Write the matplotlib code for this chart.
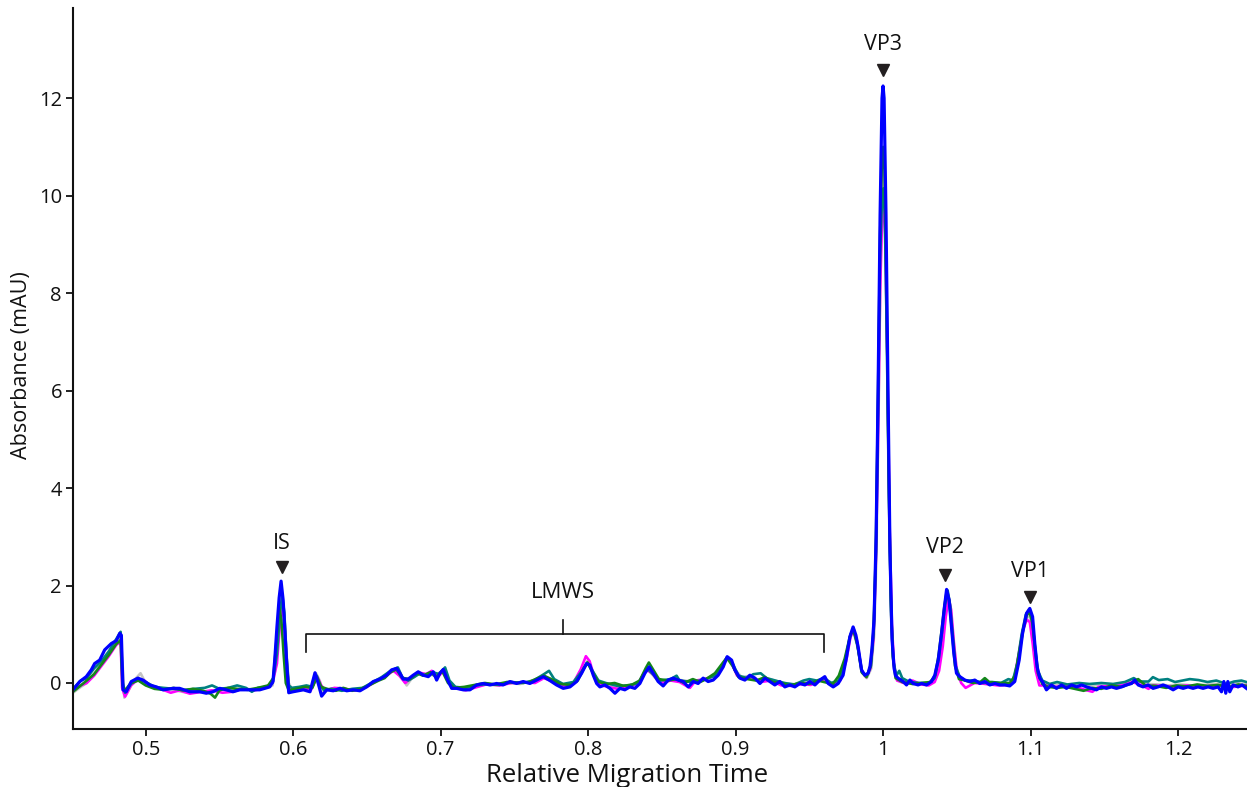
import matplotlib
matplotlib.use("Agg")
import matplotlib.pyplot as plt

plt.rcParams['font.family'] = ['Open Sans', 'DejaVu Sans']

# ---------------- data ----------------
BLUE = [(0.4507,-0.14),(0.4553,0.03),(0.4597,0.13),(0.4631,0.27),(0.4654,0.40),(0.4688,0.47),(0.4722,0.68),
(0.4767,0.81),(0.4801,0.87),(0.4824,1.02),(0.4835,0.98),(0.4846,-0.14),(0.4868,-0.18),(0.4902,0.03),(0.4947,0.10),
(0.4981,0.06),(0.5027,-0.04),(0.5072,-0.08),(0.5117,-0.14),(0.5185,-0.11),(0.5230,-0.11),(0.5298,-0.18),(0.5366,-0.18),
(0.5411,-0.21),(0.5456,-0.18),(0.5502,-0.11),(0.5546,-0.14),(0.5592,-0.18),(0.5637,-0.14),(0.5705,-0.14),(0.5773,-0.14),
(0.5841,-0.08),(0.5863,0.03),(0.5875,0.47),(0.5890,1.15),(0.5905,1.75),(0.5918,2.09),(0.5932,1.70),(0.5945,1.00),
(0.5958,0.30),(0.5970,-0.20),(0.5999,-0.18),(0.6069,-0.14),(0.6114,-0.18),(0.6148,0.21),(0.6170,-0.01),(0.6193,-0.27),
(0.6227,-0.14),(0.6272,-0.16),(0.6317,-0.11),(0.6363,-0.16),(0.6407,-0.14),(0.6453,-0.16),(0.6498,-0.08),(0.6543,0.03),
(0.6588,0.08),(0.6634,0.16),(0.6668,0.27),(0.6702,0.30),(0.6724,0.20),(0.6746,0.08),(0.6780,0.08),(0.6814,0.16),
(0.6848,0.23),(0.6882,0.16),(0.6916,0.13),(0.6950,0.23),(0.6973,0.06),(0.6995,0.20),(0.7018,0.28),(0.7041,0.10),
(0.7075,-0.11),(0.7108,-0.11),(0.7153,-0.14),(0.7199,-0.14),(0.7244,-0.04),(0.7289,-0.01),(0.7334,-0.04),(0.7380,-0.01),
(0.7424,-0.04),(0.7470,0.03),(0.7515,-0.01),(0.7560,0.03),(0.7605,-0.01),(0.7651,0.06),(0.7696,0.13),(0.7741,0.05),
(0.7786,-0.04),(0.7831,-0.11),(0.7877,-0.08),(0.7922,0.03),(0.7956,0.20),(0.7990,0.40),(0.8012,0.37),(0.8035,0.16),
(0.8058,-0.01),(0.8080,-0.08),(0.8114,-0.04),(0.8148,-0.11),(0.8182,-0.21),(0.8216,-0.11),(0.8249,-0.14),(0.8283,-0.08),
(0.8317,-0.11),(0.8351,-0.01),(0.8385,0.20),(0.8414,0.33),(0.8441,0.20),(0.8475,0.03),(0.8509,-0.06),(0.8543,0.06),
(0.8577,0.10),(0.8611,0.06),(0.8645,0.03),(0.8679,-0.08),(0.8713,0.03),(0.8746,-0.01),(0.8780,0.10),(0.8814,0.03),
(0.8848,0.06),(0.8882,0.16),(0.8916,0.33),(0.8943,0.54),(0.8973,0.47),(0.8995,0.27),(0.9029,0.10),(0.9063,0.06),
(0.9097,0.16),(0.9131,0.10),(0.9165,-0.01),(0.9199,0.10),(0.9233,0.03),(0.9266,-0.04),(0.9300,0.03),(0.9334,-0.08),
(0.9368,-0.04),(0.9402,-0.08),(0.9436,-0.01),(0.9470,-0.04),(0.9504,0.03),(0.9538,-0.04),(0.9572,0.06),(0.9605,0.13),
(0.9628,-0.01),(0.9662,-0.08),(0.9696,-0.01),(0.9729,0.16),(0.9753,0.54),(0.9775,0.95),(0.9797,1.15),(0.9816,0.98),
(0.9831,0.74),(0.9854,0.27),(0.9877,0.16),(0.9899,0.20),(0.9912,0.35),(0.9925,0.70),(0.9939,1.3),(0.9953,3.0),
(0.9966,5.9),(0.9980,9.6),(0.9993,12.0),(1.0000,12.25),(1.0007,12.0),(1.0020,9.6),(1.0034,5.9),(1.0047,2.7),
(1.0061,0.9),(1.0075,0.3),(1.0085,0.15),(1.0102,0.10),(1.0136,0.03),(1.0159,-0.04),(1.0182,0.06),(1.0204,-0.01),
(1.0238,-0.04),(1.0261,-0.01),(1.0295,-0.04),(1.0329,0.03),(1.0351,0.16),(1.0374,0.47),(1.0397,1.02),(1.0414,1.50),
(1.0431,1.92),(1.0448,1.70),(1.0464,1.15),(1.0480,0.61),(1.0498,0.20),(1.0521,0.13),(1.0555,0.06),(1.0589,0.03),
(1.0622,0.06),(1.0656,-0.01),(1.0690,0.03),(1.0724,-0.04),(1.0758,-0.01),(1.0792,-0.04),(1.0826,-0.04),(1.0859,-0.06),
(1.0893,0.03),(1.0923,0.47),(1.0946,1.02),(1.0973,1.43),(1.0995,1.53),(1.1014,1.36),(1.1029,0.81),(1.1045,0.33),
(1.1063,0.10),(1.1080,0.03),(1.1108,-0.14),(1.1142,-0.04),(1.1176,-0.11),(1.1210,-0.04),(1.1244,-0.11),(1.1278,-0.04),
(1.1312,-0.08),(1.1346,-0.04),(1.1380,-0.08),(1.1414,-0.11),(1.1447,-0.14),(1.1481,-0.08),(1.1515,-0.11),(1.1549,-0.08),
(1.1583,-0.11),(1.1617,-0.08),(1.1651,-0.04),(1.1685,-0.01),(1.1707,0.06),(1.1730,-0.04),(1.1763,-0.08),(1.1797,-0.04),
(1.1831,-0.11),(1.1865,-0.08),(1.1899,-0.04),(1.1933,-0.08),(1.1967,-0.14),(1.2001,-0.08),(1.2035,-0.11),(1.2068,-0.08),
(1.2102,-0.11),(1.2136,-0.08),(1.2170,-0.11),(1.2204,-0.08),(1.2238,-0.11),(1.2272,-0.08),(1.2295,-0.18),(1.2311,0.03),
(1.2324,-0.21),(1.2338,0.03),(1.2351,-0.18),(1.2374,-0.04),(1.2407,-0.08),(1.2435,-0.04),(1.2464,-0.11)]

GRAY = [(0.4507,-0.20),(0.4560,-0.08),(0.4600,0.00),(0.4650,0.20),(0.4700,0.40),(0.4750,0.60),(0.4800,0.85),(0.4830,0.95),
(0.4845,0.30),(0.4855,-0.30),(0.4875,-0.20),(0.4920,0.05),(0.4965,0.20),(0.5000,0.00),(0.5060,-0.10),(0.5120,-0.12),
(0.5200,-0.15),(0.5280,-0.20),(0.5350,-0.15),(0.5420,-0.18),(0.5500,-0.12),(0.5580,-0.15),(0.5650,-0.12),(0.5730,-0.13),
(0.5800,-0.10),(0.5860,-0.05),(0.5885,0.40),(0.5905,1.20),(0.5925,1.75),(0.5940,1.40),(0.5955,0.60),(0.5970,0.00),
(0.5990,-0.12),(0.6060,-0.10),(0.6120,-0.12),(0.6155,0.20),(0.6180,0.05),(0.6205,-0.20),(0.6250,-0.12),(0.6320,-0.10),
(0.6400,-0.15),(0.6480,-0.10),(0.6540,0.00),(0.6600,0.10),(0.6660,0.22),(0.6700,0.28),(0.6740,0.10),(0.6770,-0.05),
(0.6810,0.12),(0.6860,0.20),(0.6920,0.18),(0.6960,0.15),(0.7010,0.25),(0.7050,0.05),(0.7090,-0.08),(0.7160,-0.12),
(0.7230,-0.08),(0.7300,-0.03),(0.7380,-0.05),(0.7460,0.00),(0.7540,-0.02),(0.7620,0.05),(0.7700,0.15),(0.7760,0.05),
(0.7830,-0.05),(0.7900,0.00),(0.7960,0.25),(0.7995,0.45),(0.8030,0.25),(0.8070,0.02),(0.8130,-0.05),(0.8200,-0.08),
(0.8280,-0.05),(0.8350,0.00),(0.8400,0.30),(0.8450,0.12),(0.8500,0.00),(0.8580,0.08),(0.8650,0.05),(0.8720,0.02),
(0.8800,0.08),(0.8870,0.15),(0.8920,0.40),(0.8950,0.50),(0.8990,0.30),(0.9040,0.12),(0.9100,0.15),(0.9160,0.05),
(0.9230,0.08),(0.9300,0.02),(0.9380,-0.03),(0.9450,0.00),(0.9520,0.02),(0.9580,0.05),(0.9640,0.00),(0.9700,0.05),
(0.9740,0.45),(0.9780,0.95),(0.9800,1.05),(0.9830,0.70),(0.9860,0.20),(0.9890,0.10),(0.9920,0.30),(0.9940,1.0),
(0.9955,2.6),(0.9970,5.6),(0.9985,9.0),(1.0000,10.5),(1.0012,9.6),(1.0025,7.2),(1.0040,3.6),(1.0055,1.3),
(1.0070,0.4),(1.0090,0.1),(1.0130,0.02),(1.0200,-0.02),(1.0280,-0.03),(1.0330,0.02),(1.0360,0.20),(1.0385,0.70),
(1.0410,1.35),(1.0435,1.85),(1.0455,1.55),(1.0475,0.95),(1.0495,0.35),(1.0520,0.10),(1.0580,0.02),(1.0650,0.00),
(1.0720,-0.03),(1.0800,-0.02),(1.0870,0.00),(1.0905,0.25),(1.0935,0.80),(1.0965,1.30),(1.0990,1.40),(1.1010,1.20),
(1.1030,0.65),(1.1050,0.25),(1.1075,0.05),(1.1120,-0.05),(1.1200,-0.03),(1.1280,-0.05),(1.1360,-0.06),(1.1440,-0.04),
(1.1520,-0.06),(1.1600,-0.03),(1.1680,0.02),(1.1720,0.05),(1.1780,-0.02),(1.1860,-0.03),(1.1940,-0.05),(1.2020,-0.03),
(1.2100,-0.05),(1.2180,-0.04),(1.2260,-0.02),(1.2340,-0.05),(1.2400,0.00),(1.2464,-0.03)]

MAGENTA = [(0.4507,-0.15),(0.4560,-0.05),(0.4600,0.00),(0.4650,0.15),(0.4700,0.35),(0.4750,0.55),(0.4800,0.78),(0.4830,0.85),
(0.4840,-0.10),(0.4860,-0.28),(0.4900,-0.05),(0.4950,0.08),(0.4990,0.05),(0.5040,-0.08),(0.5100,-0.12),(0.5170,-0.20),
(0.5230,-0.15),(0.5300,-0.22),(0.5380,-0.18),(0.5450,-0.15),(0.5520,-0.20),(0.5590,-0.18),(0.5660,-0.12),(0.5740,-0.15),
(0.5810,-0.10),(0.5860,0.00),(0.5890,0.40),(0.5910,1.20),(0.5925,1.60),(0.5940,1.25),(0.5955,0.45),(0.5970,-0.10),
(0.6000,-0.15),(0.6070,-0.12),(0.6120,-0.15),(0.6150,0.05),(0.6165,0.12),(0.6190,-0.05),(0.6220,-0.15),(0.6280,-0.10),
(0.6350,-0.12),(0.6420,-0.15),(0.6500,-0.08),(0.6570,0.05),(0.6630,0.15),(0.6680,0.25),(0.6720,0.15),(0.6760,0.00),
(0.6800,0.10),(0.6850,0.22),(0.6900,0.18),(0.6940,0.25),(0.6980,0.12),(0.7020,0.25),(0.7060,0.02),(0.7100,-0.10),
(0.7170,-0.15),(0.7250,-0.08),(0.7320,-0.02),(0.7400,-0.05),(0.7480,0.00),(0.7560,0.02),(0.7640,0.00),(0.7700,0.10),
(0.7770,0.02),(0.7840,-0.08),(0.7900,0.00),(0.7950,0.28),(0.7985,0.55),(0.8010,0.45),(0.8040,0.15),(0.8070,-0.02),
(0.8130,-0.08),(0.8200,-0.12),(0.8280,-0.08),(0.8340,0.00),(0.8395,0.28),(0.8440,0.18),(0.8490,0.00),(0.8560,0.05),
(0.8620,0.02),(0.8690,-0.10),(0.8730,0.05),(0.8790,0.08),(0.8860,0.15),(0.8910,0.35),(0.8940,0.52),(0.8975,0.40),
(0.9010,0.15),(0.9060,0.08),(0.9110,0.12),(0.9170,0.02),(0.9240,0.05),(0.9310,-0.05),(0.9380,-0.06),(0.9450,-0.02),
(0.9510,-0.04),(0.9570,0.05),(0.9610,0.08),(0.9660,-0.05),(0.9710,0.05),(0.9750,0.45),(0.9780,0.95),(0.9800,1.10),
(0.9825,0.85),(0.9855,0.25),(0.9885,0.12),(0.9915,0.30),(0.9935,0.9),(0.9950,2.3),(0.9965,4.8),(0.9980,8.0),
(0.9995,9.7),(1.0005,9.85),(1.0015,9.2),(1.0030,6.5),(1.0045,3.2),(1.0060,1.2),(1.0075,0.35),(1.0095,0.05),
(1.0140,0.00),(1.0200,0.05),(1.0260,-0.03),(1.0310,-0.05),(1.0350,0.02),(1.0380,0.25),(1.0405,0.75),(1.0425,1.35),
(1.0445,1.75),(1.0462,1.50),(1.0480,0.85),(1.0500,0.25),(1.0530,0.00),(1.0560,-0.10),(1.0620,0.00),(1.0700,-0.02),
(1.0780,-0.05),(1.0850,-0.04),(1.0890,0.10),(1.0920,0.60),(1.0950,1.10),(1.0975,1.30),(1.0995,1.25),(1.1015,0.80),
(1.1035,0.25),(1.1060,-0.05),(1.1100,-0.05),(1.1170,-0.08),(1.1250,-0.05),(1.1310,-0.08),(1.1380,-0.15),(1.1420,-0.18),
(1.1460,-0.08),(1.1540,-0.06),(1.1620,-0.05),(1.1690,0.02),(1.1750,-0.04),(1.1800,-0.12),(1.1830,-0.05),(1.1900,-0.06),
(1.1980,-0.08),(1.2060,-0.05),(1.2140,-0.08),(1.2220,-0.06),(1.2300,-0.05),(1.2380,-0.08),(1.2464,-0.05)]

TEAL = [(0.4507,-0.12),(0.4560,0.05),(0.4600,0.10),(0.4650,0.30),(0.4700,0.45),(0.4750,0.65),(0.4800,0.90),(0.4830,1.05),
(0.4845,0.00),(0.4860,-0.20),(0.4900,-0.02),(0.4950,0.08),(0.5000,0.02),(0.5060,-0.08),(0.5120,-0.10),(0.5190,-0.12),
(0.5260,-0.15),(0.5330,-0.12),(0.5400,-0.10),(0.5450,-0.05),(0.5500,-0.12),(0.5560,-0.10),(0.5620,-0.05),(0.5680,-0.10),
(0.5720,-0.18),(0.5760,-0.10),(0.5820,-0.08),(0.5860,0.00),(0.5890,0.60),(0.5910,1.40),(0.5925,1.80),(0.5940,1.45),
(0.5955,0.55),(0.5970,-0.05),(0.5990,-0.10),(0.6040,-0.08),(0.6090,-0.05),(0.6130,-0.08),(0.6160,0.15),(0.6185,-0.05),
(0.6210,-0.15),(0.6260,-0.12),(0.6330,-0.16),(0.6400,-0.12),(0.6470,-0.10),(0.6530,0.00),(0.6600,0.12),(0.6660,0.25),
(0.6710,0.32),(0.6740,0.12),(0.6780,0.05),(0.6820,0.12),(0.6860,0.20),(0.6900,0.15),(0.6950,0.22),(0.6990,0.18),
(0.7030,0.32),(0.7060,0.05),(0.7100,-0.08),(0.7170,-0.10),(0.7240,-0.05),(0.7320,-0.02),(0.7400,-0.04),(0.7480,0.02),
(0.7560,0.00),(0.7630,0.05),(0.7700,0.18),(0.7735,0.25),(0.7770,0.08),(0.7830,-0.02),(0.7900,0.02),(0.7960,0.25),
(0.7995,0.42),(0.8030,0.25),(0.8070,0.05),(0.8120,0.00),(0.8200,-0.06),(0.8280,-0.05),(0.8340,0.00),(0.8400,0.30),
(0.8440,0.18),(0.8490,0.05),(0.8560,0.08),(0.8600,0.15),(0.8620,0.05),(0.8700,0.02),(0.8780,0.06),(0.8860,0.15),
(0.8915,0.40),(0.8945,0.52),(0.8980,0.40),(0.9020,0.15),(0.9080,0.10),(0.9120,0.18),(0.9170,0.20),(0.9210,0.10),
(0.9270,0.05),(0.9330,0.00),(0.9400,-0.03),(0.9460,0.05),(0.9500,0.08),(0.9550,0.05),(0.9600,0.10),(0.9650,0.00),
(0.9700,0.05),(0.9745,0.50),(0.9780,1.00),(0.9800,1.12),(0.9828,0.75),(0.9858,0.22),(0.9890,0.15),(0.9918,0.35),
(0.9937,1.1),(0.9952,2.7),(0.9966,5.6),(0.9980,8.8),(0.9994,10.0),(1.0002,10.15),(1.0012,9.6),(1.0025,7.2),
(1.0040,3.8),(1.0055,1.4),(1.0070,0.45),(1.0090,0.15),(1.0110,0.25),(1.0130,0.10),(1.0180,0.02),(1.0250,0.00),
(1.0310,0.00),(1.0350,0.10),(1.0378,0.50),(1.0402,1.10),(1.0420,1.60),(1.0438,1.90),(1.0455,1.60),(1.0472,1.00),
(1.0492,0.35),(1.0520,0.12),(1.0560,0.05),(1.0620,0.05),(1.0680,0.00),(1.0740,0.02),(1.0800,0.00),(1.0850,0.08),
(1.0880,0.05),(1.0910,0.40),(1.0940,1.00),(1.0968,1.40),(1.0990,1.50),(1.1010,1.30),(1.1030,0.75),(1.1050,0.25),
(1.1080,0.05),(1.1130,-0.02),(1.1180,0.02),(1.1250,-0.03),(1.1330,0.00),(1.1400,-0.02),(1.1480,0.00),(1.1560,-0.02),
(1.1640,0.02),(1.1700,0.10),(1.1740,0.03),(1.1800,0.03),(1.1830,0.12),(1.1870,0.06),(1.1930,0.08),(1.1980,0.02),
(1.2030,0.05),(1.2080,0.08),(1.2140,0.06),(1.2200,0.02),(1.2260,0.05),(1.2330,-0.02),(1.2380,0.03),(1.2430,0.05),
(1.2464,0.02)]

GREEN = [(0.4507,-0.18),(0.4560,-0.05),(0.4600,0.05),(0.4650,0.18),(0.4700,0.38),(0.4750,0.58),(0.4800,0.80),(0.4830,0.88),
(0.4842,-0.05),(0.4860,-0.15),(0.4900,0.00),(0.4950,0.05),(0.5000,-0.05),(0.5060,-0.12),(0.5120,-0.14),(0.5190,-0.10),
(0.5250,-0.15),(0.5320,-0.12),(0.5390,-0.16),(0.5440,-0.22),(0.5470,-0.30),(0.5500,-0.15),(0.5560,-0.10),(0.5620,-0.12),
(0.5690,-0.14),(0.5760,-0.10),(0.5830,-0.05),(0.5865,0.10),(0.5885,0.80),(0.5905,1.55),(0.5920,1.30),(0.5935,0.60),
(0.5950,0.00),(0.5970,-0.15),(0.6020,-0.12),(0.6080,-0.08),(0.6130,-0.10),(0.6160,0.12),(0.6190,-0.08),(0.6230,-0.12),
(0.6290,-0.16),(0.6340,-0.10),(0.6400,-0.16),(0.6460,-0.12),(0.6520,-0.04),(0.6580,0.05),(0.6620,0.10),(0.6660,0.22),
(0.6700,0.28),(0.6740,0.10),(0.6790,0.08),(0.6840,0.20),(0.6880,0.15),(0.6930,0.22),(0.6970,0.12),(0.7010,0.25),
(0.7050,0.00),(0.7090,-0.10),(0.7160,-0.08),(0.7230,-0.04),(0.7300,0.00),(0.7370,-0.03),(0.7450,0.02),(0.7530,0.00),
(0.7600,0.02),(0.7660,0.10),(0.7700,0.15),(0.7750,0.08),(0.7810,-0.02),(0.7880,-0.04),(0.7930,0.05),(0.7970,0.30),
(0.7995,0.42),(0.8030,0.22),(0.8070,0.02),(0.8130,-0.02),(0.8180,0.00),(0.8240,-0.06),(0.8300,-0.03),(0.8350,0.05),
(0.8390,0.30),(0.8412,0.42),(0.8440,0.28),(0.8480,0.08),(0.8540,0.05),(0.8600,0.08),(0.8650,0.00),(0.8710,0.08),
(0.8760,0.02),(0.8800,0.08),(0.8860,0.20),(0.8910,0.40),(0.8940,0.52),(0.8980,0.35),(0.9020,0.12),(0.9080,0.08),
(0.9140,0.05),(0.9200,0.12),(0.9250,0.02),(0.9310,0.00),(0.9370,-0.05),(0.9440,0.00),(0.9500,-0.02),(0.9560,0.05),
(0.9600,0.02),(0.9660,-0.02),(0.9700,0.15),(0.9740,0.50),(0.9775,0.95),(0.9797,1.10),(0.9825,0.80),(0.9855,0.22),
(0.9888,0.12),(0.9916,0.35),(0.9936,1.1),(0.9951,2.7),(0.9965,5.7),(0.9980,9.2),(0.9993,10.8),(1.0001,11.0),
(1.0010,10.5),(1.0023,8.2),(1.0037,4.6),(1.0052,1.8),(1.0066,0.55),(1.0085,0.10),(1.0130,0.02),(1.0200,-0.02),
(1.0260,0.00),(1.0320,0.02),(1.0352,0.15),(1.0376,0.55),(1.0400,1.15),(1.0417,1.60),(1.0433,1.90),(1.0450,1.65),
(1.0468,1.05),(1.0488,0.35),(1.0515,0.08),(1.0560,0.05),(1.0610,0.00),(1.0660,0.02),(1.0690,0.10),(1.0720,0.02),
(1.0790,0.00),(1.0860,0.00),(1.0895,0.15),(1.0925,0.65),(1.0950,1.10),(1.0975,1.40),(1.0995,1.45),(1.1015,1.20),
(1.1032,0.65),(1.1050,0.20),(1.1080,-0.02),(1.1120,-0.08),(1.1180,-0.10),(1.1240,-0.08),(1.1300,-0.12),(1.1360,-0.16),
(1.1420,-0.10),(1.1480,-0.12),(1.1550,-0.05),(1.1620,-0.08),(1.1690,0.00),(1.1730,0.08),(1.1780,-0.05),(1.1850,-0.06),
(1.1920,-0.10),(1.1990,-0.05),(1.2060,-0.07),(1.2130,-0.03),(1.2200,-0.06),(1.2270,-0.04),(1.2350,-0.08),(1.2410,-0.03),
(1.2464,-0.06)]

X_TICKS = [0.5, 0.6, 0.7, 0.8, 0.9, 1.0, 1.1, 1.2]
X_TICK_LABELS = ['0.5', '0.6', '0.7', '0.8', '0.9', '1', '1.1', '1.2']
Y_TICKS = [0, 2, 4, 6, 8, 10, 12]

PEAK_LABELS = ['IS', 'VP3', 'VP2', 'VP1']
PEAK_X = [0.5925, 1.0000, 1.0420, 1.0995]

# ---------------- figure ----------------
W, H = 1247, 787
fig = plt.figure(figsize=(W / 100, H / 100), dpi=100)
ax = fig.add_axes([73 / W, 58 / H, 1 - 73 / W, 721 / H])

series = [(GRAY, '#c4c4c4', 1.9), (MAGENTA, '#ff00ff', 1.9), (TEAL, '#008080', 1.9),
          (GREEN, '#13861a', 1.9), (BLUE, '#0000ff', 2.3)]
for data, col, lw in series:
    xs = [p[0] for p in data]
    ys = [p[1] for p in data]
    ax.plot(xs, ys, color=col, lw=lw, solid_joinstyle='round')

ax.set_xlim(0.4507, 1.2468)
ax.set_ylim(-0.944, 13.85)
ax.set_xticks(X_TICKS)
ax.set_xticklabels(X_TICK_LABELS)
ax.set_yticks(Y_TICKS)
for s in ['top', 'right']:
    ax.spines[s].set_visible(False)
for s in ['left', 'bottom']:
    ax.spines[s].set_linewidth(1.5)
    ax.spines[s].set_color('#111111')
ax.tick_params(axis='both', direction='out', length=5, width=1.3, labelsize=14.5,
               color='#111111', labelcolor='#111111', pad=3)

fig.text(627.5 / W, 1 - 776 / H, 'Relative Migration Time', ha='center', va='center',
         fontsize=18.5, color='#111111')
fig.text(22 / W, 1 - 365 / H, 'Absorbance (mAU)', ha='center', va='center',
         rotation=90, fontsize=15.5, color='#111111')

# peak annotations: arrow head above each peak, label above arrow
ARROW_Y = [2.38, 12.57, 2.21, 1.76]
LABEL_Y = [2.87, 13.11, 2.77, 2.28]
for lab, px, ay, ly in zip(PEAK_LABELS, PEAK_X, ARROW_Y, LABEL_Y):
    ax.plot([px], [ay], marker='v', markersize=9, color='#231f20', clip_on=False)
    ax.text(px, ly, lab, ha='center', va='center', fontsize=15.5, color='#111111')

# LMWS bracket
bx0, bx1, bmid, by = 0.6087, 0.9599, 0.7829, 1.005
ax.plot([bx0, bx0, bx1, bx1], [0.636, by, by, 0.636], color='#111111', lw=1.2)
ax.plot([bmid, bmid], [by, 1.29], color='#111111', lw=1.2)
ax.text(bmid, 1.85, 'LMWS', ha='center', va='center', fontsize=16, color='#111111')

fig.savefig('out.png', dpi=100)
